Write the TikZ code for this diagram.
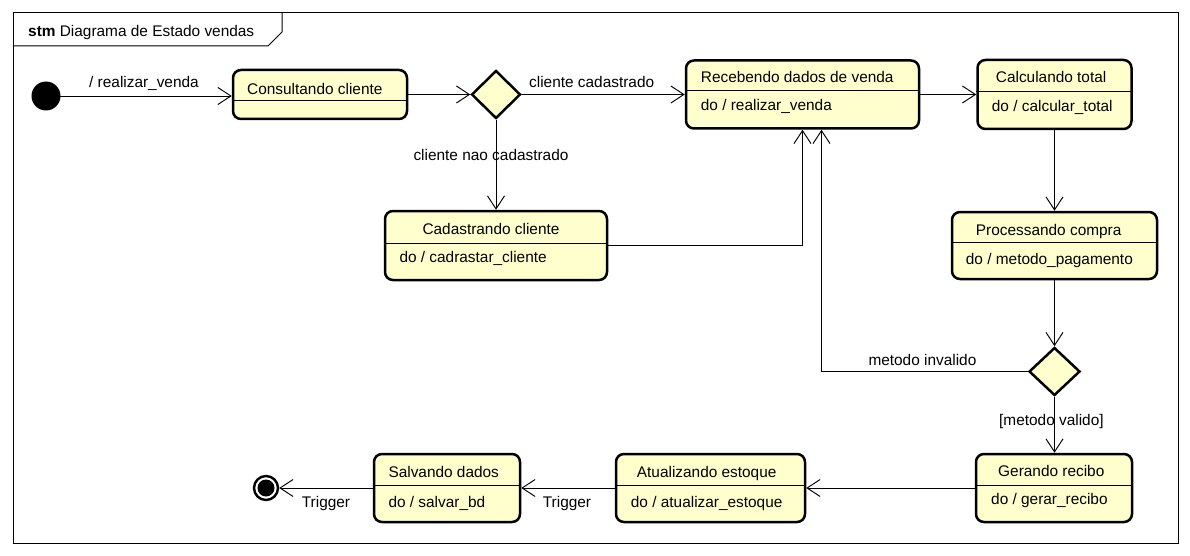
\documentclass[tikz,border=0pt]{standalone}
\usepackage{fontspec}
\setmainfont{Liberation Sans}
\usetikzlibrary{arrows.meta,shapes.geometric}
\definecolor{statefill}{RGB}{255,255,206}
\tikzset{
  statebox/.style={draw, fill=statefill, rounded corners=8pt, line width=2.5pt, inner sep=0pt},
  choice/.style={draw, fill=statefill, line width=2.5pt, inner sep=0pt},
  sepline/.style={line width=1pt},
  conn/.style={line width=0.95pt, -{Straight Barb[length=13pt,width=17pt,line width=0.95pt]}},
  txt/.style={anchor=base west, inner sep=0pt, font=\fontsize{15.4}{18}\selectfont},
}
\begin{document}
\begin{tikzpicture}[x=1pt, y=-1pt]
\useasboundingbox (0,0) rectangle (1190,556);
\fill[white] (0,0) rectangle (1190,556);

% frame with its name tab
\draw[line width=1pt] (13,13) rectangle (1178,543);
\draw[line width=1pt] (13,46) -- (268,46) -- (282,32) -- (282,13);
\node[txt] (title) at (28,37) {\textbf{stm} Diagrama de Estado vendas};

% initial and final states
\fill (46,96) circle (14.5) coordinate (init);
\node[circle, draw, line width=2.4pt, fill=white, minimum size=24pt, inner sep=0pt] (fin) at (266,488) {};
\fill (fin.center) circle (8.5);

% choice points
\node[choice, diamond, minimum width=49pt, minimum height=48pt] (d1) at (496,94.5) {};
\node[choice, diamond, minimum width=51pt, minimum height=48pt] (d2) at (1054.5,371.5) {};

% states
\node[statebox, minimum width=174pt, minimum height=49pt] (cons) at (320,94.5) {};
\draw[sepline] (cons.west |- 0,101) -- (cons.east |- 0,101);
\node[txt] (consn) at (247,95) {Consultando cliente};

\node[statebox, minimum width=233pt, minimum height=68pt] (reb) at (802.5,94.5) {};
\draw[sepline] (reb.west |- 0,91) -- (reb.east |- 0,91);
\node[txt] (rebn) at (700.7,83) {Recebendo dados de venda};
\node[txt] (rebd) at (700.7,111) {do / realizar\_venda};

\node[statebox, minimum width=154pt, minimum height=69pt] (calc) at (1054.5,94.5) {};
\draw[sepline] (calc.west |- 0,92) -- (calc.east |- 0,92);
\node[txt] (calcn) at (995.7,83) {Calculando total};
\node[txt] (calcd) at (991.7,111.5) {do / calcular\_total};

\node[statebox, minimum width=222pt, minimum height=69pt] (cad) at (496,245.5) {};
\draw[sepline] (cad.west |- 0,243) -- (cad.east |- 0,243);
\node[txt] (cadn) at (422.3,234) {Cadastrando cliente};
\node[txt] (cadd) at (399.3,262) {do / cadrastar\_cliente};

\node[statebox, minimum width=205pt, minimum height=67pt] (proc) at (1054.5,245.5) {};
\draw[sepline] (proc.west |- 0,242) -- (proc.east |- 0,242);
\node[txt] (procn) at (975.7,235) {Processando compra};
\node[txt] (procd) at (965.7,264) {do / metodo\_pagamento};

\node[statebox, minimum width=156pt, minimum height=68pt] (ger) at (1054,488) {};
\draw[sepline] (ger.west |- 0,485) -- (ger.east |- 0,485);
\node[txt] (gern) at (998,476.5) {Gerando recibo};
\node[txt] (gerd) at (991,504.5) {do / gerar\_recibo};

\node[statebox, minimum width=189pt, minimum height=68pt] (atu) at (710.5,488) {};
\draw[sepline] (atu.west |- 0,485.7) -- (atu.east |- 0,485.7);
\node[txt] (atun) at (636.7,477.5) {Atualizando estoque};
\node[txt] (atud) at (630.7,507.5) {do / atualizar\_estoque};

\node[statebox, minimum width=146pt, minimum height=68pt] (sal) at (447,488) {};
\draw[sepline] (sal.west |- 0,485.7) -- (sal.east |- 0,485.7);
\node[txt] (saln) at (388.3,477.5) {Salvando dados};
\node[txt] (sald) at (388.3,507.5) {do / salvar\_bd};

% transitions
\draw[conn] (init) -- (init -| cons.west);
\node[txt] (l1) at (89,87.5) {/ realizar\_venda};

\draw[conn] (cons.east) -- (d1.west);

\draw[conn] (d1.east) -- (d1.east -| reb.west);
\node[txt] (l2) at (529,88) {cliente cadastrado};

\draw[conn] (d1.south) -- (d1.south |- cad.north);
\node[txt] (l3) at (413.3,160.5) {cliente nao cadastrado};

\draw[conn] (cad.east) -| (reb.south);

\draw[conn] (reb.east) -- (reb.east -| calc.west);

\draw[conn] (calc.south) -- (calc.south |- proc.north);

\draw[conn] (proc.south) -- (d2.north);

\draw[conn] (d2.west) -| ([xshift=19pt]reb.south);
\node[txt] (l4) at (868.3,365.5) {metodo invalido};

\draw[conn] (d2.south) -- (d2.south |- ger.north);
\node[txt] (l5) at (999,425) {[metodo valido]};

\draw[conn] (ger.west) -- (atu.east);

\draw[conn] (atu.west) -- (sal.east);
\node[txt] (l6) at (542.7,507.5) {Trigger};

\draw[conn] (sal.west) -- (fin.east);
\node[txt] (l7) at (301.7,507.5) {Trigger};
\end{tikzpicture}
\end{document}
